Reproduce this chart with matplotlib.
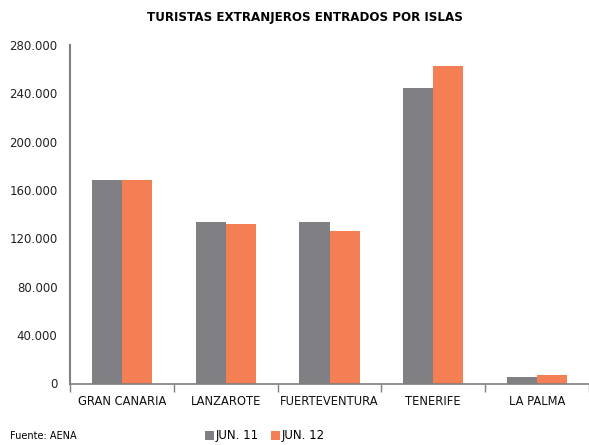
import matplotlib
matplotlib.use("Agg")
import matplotlib.pyplot as plt
import numpy as np
from matplotlib.ticker import FuncFormatter, FixedLocator

categories = ["GRAN CANARIA", "LANZAROTE", "FUERTEVENTURA", "TENERIFE", "LA PALMA"]
jun11 = [168300, 133600, 133600, 244400, 5100]
jun12 = [168300, 131900, 126100, 262800, 7300]
series_labels = ["JUN. 11", "JUN. 12"]
title = "TURISTAS EXTRANJEROS ENTRADOS POR ISLAS"
source = "Fuente: AENA"

c_gray = "#7f7f84"
c_orange = "#f47f54"

fig = plt.figure(figsize=(5.89, 4.45), dpi=100)
ax = fig.add_axes([70/589, 1-383.5/445, 1-70/589, (383.5-45)/445])

x = np.arange(len(categories))
w = 0.29
ax.bar(x - w/2, jun11, w, color=c_gray, label=series_labels[0])
ax.bar(x + w/2, jun12, w, color=c_orange, label=series_labels[1])

ax.set_xlim(-0.5, len(categories) - 0.5)
ax.set_ylim(0, 280000)
ax.set_yticks(np.arange(0, 280001, 40000))
ax.yaxis.set_major_formatter(FuncFormatter(lambda v, p: f"{int(v):,}".replace(",", ".")))
ax.tick_params(axis="y", length=0, labelsize=8.5, pad=9, colors="#222222")

ax.set_xticks(x)
ax.set_xticklabels(categories)
ax.xaxis.set_minor_locator(FixedLocator(np.arange(-0.5, len(categories), 1.0)))
ax.tick_params(axis="x", which="major", length=0, labelsize=8.3, pad=8, colors="#111111")
ax.tick_params(axis="x", which="minor", length=6, width=1, color="#808080", direction="out")

for s in ["top", "right"]:
    ax.spines[s].set_visible(False)
ax.spines["left"].set_color("#808080")
ax.spines["left"].set_linewidth(1.5)
ax.spines["bottom"].set_color("#808080")
ax.spines["bottom"].set_linewidth(1.2)

fig.text(304.5/589, 1-18/445, title, ha="center", va="center", fontsize=8.6, fontweight="bold")
fig.text(10/589, 1-436/445, source, ha="left", va="center", fontsize=7)

leg = fig.legend(loc="center", bbox_to_anchor=(265/589, 1-436/445), ncol=2, frameon=False,
                 fontsize=8.5, handlelength=0.8, handleheight=0.8, handletextpad=0.15,
                 columnspacing=1.0, borderaxespad=0)

fig.savefig("out.png", dpi=100)
